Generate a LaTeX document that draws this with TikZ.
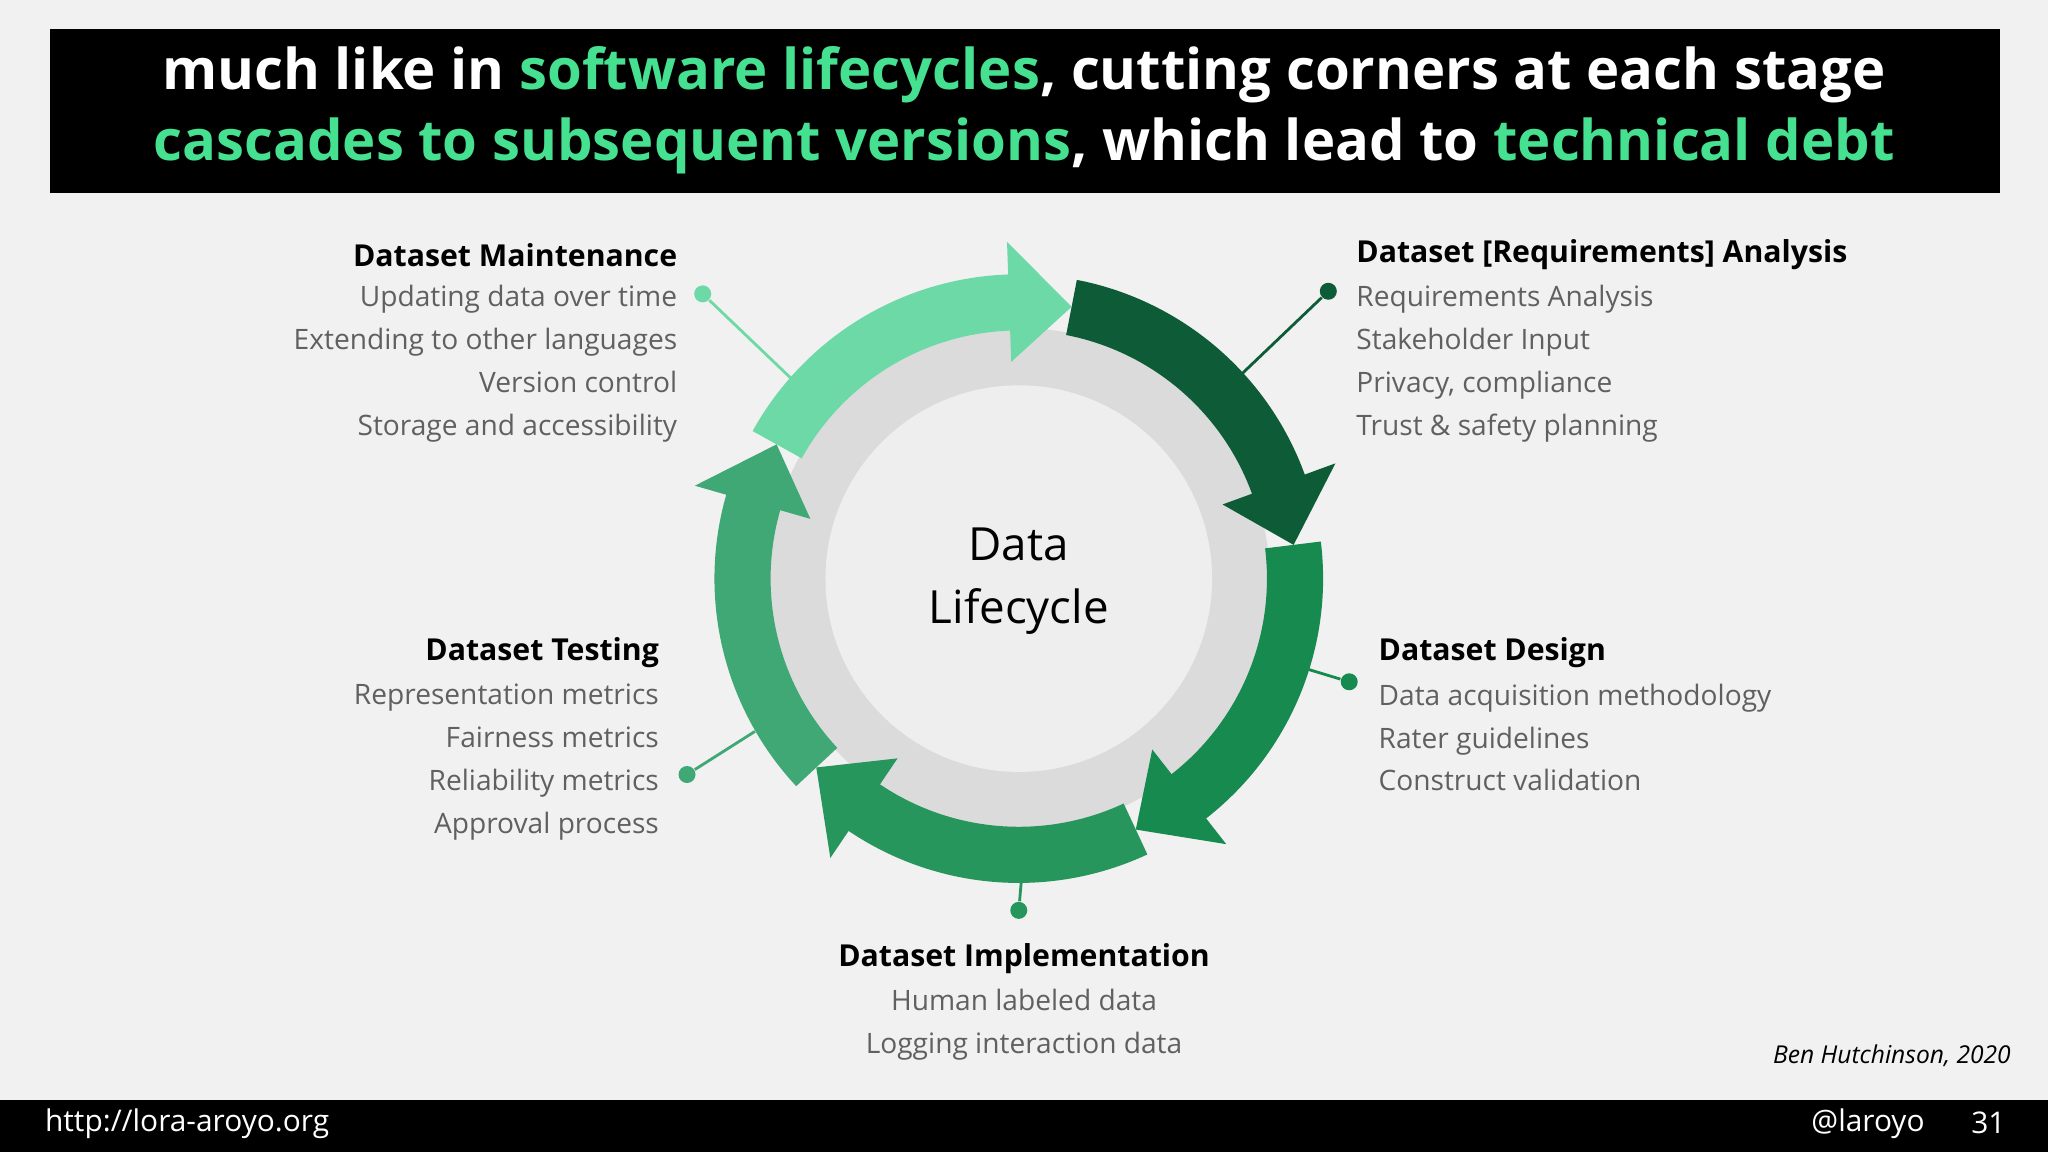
\documentclass[tikz,border=0pt]{standalone}
\usepackage{fontspec}
\setmainfont{Open Sans}
\definecolor{bg}{HTML}{F1F1F1}
\definecolor{tg}{HTML}{45E090}
\definecolor{cA}{HTML}{6CD9A6}
\definecolor{cB}{HTML}{0D5C37}
\definecolor{cC}{HTML}{178A4F}
\definecolor{cD}{HTML}{27965C}
\definecolor{cE}{HTML}{3FA874}
\definecolor{txt}{HTML}{606060}
\begin{document}
\begin{tikzpicture}[x=0.01306cm,y=-0.01306cm,
  head/.style={font=\bfseries\fontsize{8.6}{10}\selectfont,inner sep=0},
  item/.style={font=\fontsize{8}{12.2}\selectfont,text=txt,inner sep=0},
  pin/.style={line width=0.8pt},
  dot/.style={circle,inner sep=0,minimum size=0.17cm}]
\fill[bg] (0,0) rectangle (1568,882);
\useasboundingbox (0,0) rectangle (1568,882);
\fill[black] (38,22) rectangle (1531,148);
\node[font=\bfseries\fontsize{16}{20}\selectfont,text=white] (t1) at (784,57) {much like in \textcolor{tg}{software lifecycles}, cutting corners at each stage};
\node[font=\bfseries\fontsize{16}{20}\selectfont,text=white] (t2) at (784,112) {\textcolor{tg}{cascades to subsequent versions}, which lead to \textcolor{tg}{technical debt}};
\fill[black] (0,842) rectangle (1568,882);
\node[anchor=west,text=white,font=\fontsize{8.5}{10}\selectfont] (url) at (25,860) {http://lora-aroyo.org};
\node[anchor=east,text=white,font=\fontsize{8.5}{10}\selectfont] (tw) at (1483,860) {@laroyo};
\node[anchor=east,text=white,font=\fontsize{8.5}{10}\selectfont] (pg) at (1545,860) {31};
\node[anchor=east,font=\itshape\fontsize{7}{9}\selectfont] (cite) at (1549,808) {Ben Hutchinson, 2020};
% ring
\begin{scope}[shift={(780,443)},yscale=-1]
\fill[gray!28] (0,0) circle (192);
\fill[gray!13] (0,0) circle (148);
\foreach \ts/\te/\c in {151/79/cA,79/7/cB,7/-65/cC,-65/-137/cD,-137/-209/cE}{
  \pgfmathsetmacro\b{\te+12}
  \fill[\c] (\ts:233) arc[start angle=\ts,end angle=\b,radius=233] -- (\b:190) arc[start angle=\b,end angle=\ts,radius=190] -- cycle;}
\foreach \te/\c in {79/cA,7/cB,-65/cC,-137/cD,-209/cE}{
  \pgfmathsetmacro\b{\te+13}
  \fill[\c] (\te:212) -- (\b:258) -- (\b:166) -- cycle;}
\end{scope}
\node[font=\fontsize{13}{16}\selectfont,align=center] (ctr) at (780,445) {Data\\[2pt]Lifecycle};
% pins
\coordinate (pA) at (606,290); \node[dot,fill=cA] (dA) at (538,225) {}; \draw[pin,cA] (dA) -- (pA);
\coordinate (pB) at (950,287); \node[dot,fill=cB] (dB) at (1017,223) {}; \draw[pin,cB] (dB) -- (pB);
\coordinate (pC) at (1000,512); \node[dot,fill=cC] (dC) at (1033,522) {}; \draw[pin,cC] (dC) -- (pC);
\coordinate (pD) at (782,674); \node[dot,fill=cD] (dD) at (780,697) {}; \draw[pin,cD] (dD) -- (pD);
\coordinate (pE) at (578,560); \node[dot,fill=cE] (dE) at (526,593) {}; \draw[pin,cE] (dE) -- (pE);
% texts
\node[head,anchor=east] (hA) at (519,195) {Dataset Maintenance};
\node[item,anchor=north east,align=right] (iA) at (519,218) {Updating data over time\\Extending to other languages\\Version control\\Storage and accessibility};
\node[head,anchor=west] (hB) at (1038,195) {Dataset [Requirements] Analysis};
\node[item,anchor=north west,align=left] (iB) at (1038,218) {Requirements Analysis\\Stakeholder Input\\Privacy, compliance\\Trust \& safety planning};
\node[head,anchor=west] (hC) at (1055,500) {Dataset Design};
\node[item,anchor=north west,align=left] (iC) at (1055,523) {Data acquisition methodology\\Rater guidelines\\Construct validation};
\node[head] (hD) at (784,734) {Dataset Implementation};
\node[item,anchor=north,align=center] (iD) at (784,757) {Human labeled data\\Logging interaction data};
\node[head,anchor=east] (hE) at (505,500) {Dataset Testing};
\node[item,anchor=north east,align=right] (iE) at (505,523) {Representation metrics\\Fairness metrics\\Reliability metrics\\Approval process};
\end{tikzpicture}
\end{document}
